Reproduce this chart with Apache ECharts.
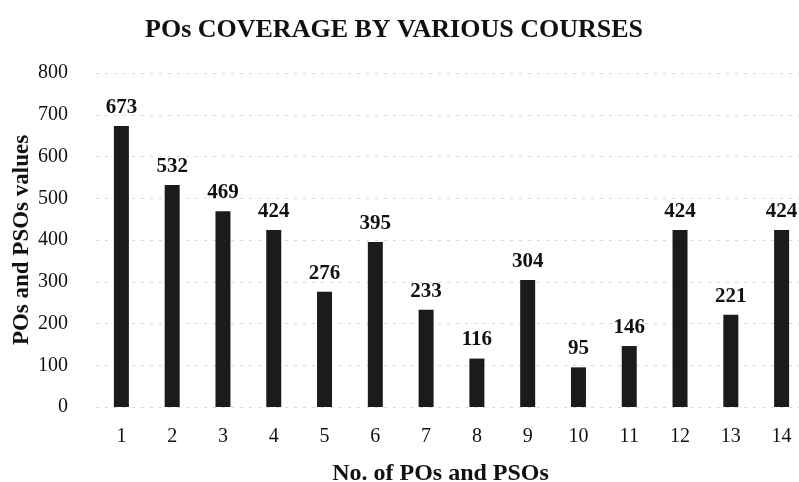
<!DOCTYPE html>
<html><head><meta charset="utf-8">
<script src="https://cdn.jsdelivr.net/npm/echarts@6/dist/echarts.min.js"></script>
<style>html,body{margin:0;padding:0;background:#fff}#c{width:799px;height:482px}</style>
</head><body><div id="c"></div>
<script>
const categories = ['1','2','3','4','5','6','7','8','9','10','11','12','13','14'];
const values = [673,532,469,424,276,395,233,116,304,95,146,424,221,424];
const yTicks = [0,100,200,300,400,500,600,700,800];
const FONT = '"Liberation Serif","Times New Roman",serif';
const chart = echarts.init(document.getElementById('c'));
chart.setOption({
  backgroundColor:'#fff',
  animation:false,
  title:{text:'POs COVERAGE BY VARIOUS COURSES',left:389,top:12,textAlign:'center',
    textStyle:{fontFamily:FONT,fontWeight:'bold',fontSize:26,color:'#111'}},
  grid:{left:96,top:73,width:711,height:334,containLabel:false,outerBoundsMode:'none'},
  xAxis:{type:'category',data:categories,
    axisLine:{show:false},axisTick:{show:false},
    axisLabel:{fontFamily:FONT,fontSize:20,color:'#111',margin:20},
    name:'No. of POs and PSOs',nameLocation:'middle',nameGap:55,nameMoveOverlap:false,
    nameTextStyle:{fontFamily:FONT,fontWeight:'bold',fontSize:24,color:'#111',padding:[0,0,0,-22]}},
  yAxis:{type:'value',min:yTicks[0],max:yTicks[yTicks.length-1],interval:100,
    axisLine:{show:false},axisTick:{show:false},
    axisLabel:{fontFamily:FONT,fontSize:20,color:'#111',margin:28},
    splitLine:{lineStyle:{color:'#d8d8d8',type:[3,6],width:1}},
    name:'POs and PSOs values',nameLocation:'middle',nameGap:62,nameMoveOverlap:false,
    nameTextStyle:{fontFamily:FONT,fontWeight:'bold',fontSize:23,color:'#111'}},
  series:[{type:'bar',data:values,barWidth:15,
    itemStyle:{color:'#1b1b1b'},
    label:{show:true,position:'top',distance:8,fontFamily:FONT,fontWeight:'bold',fontSize:21,color:'#111'}}]
});
</script></body></html>
